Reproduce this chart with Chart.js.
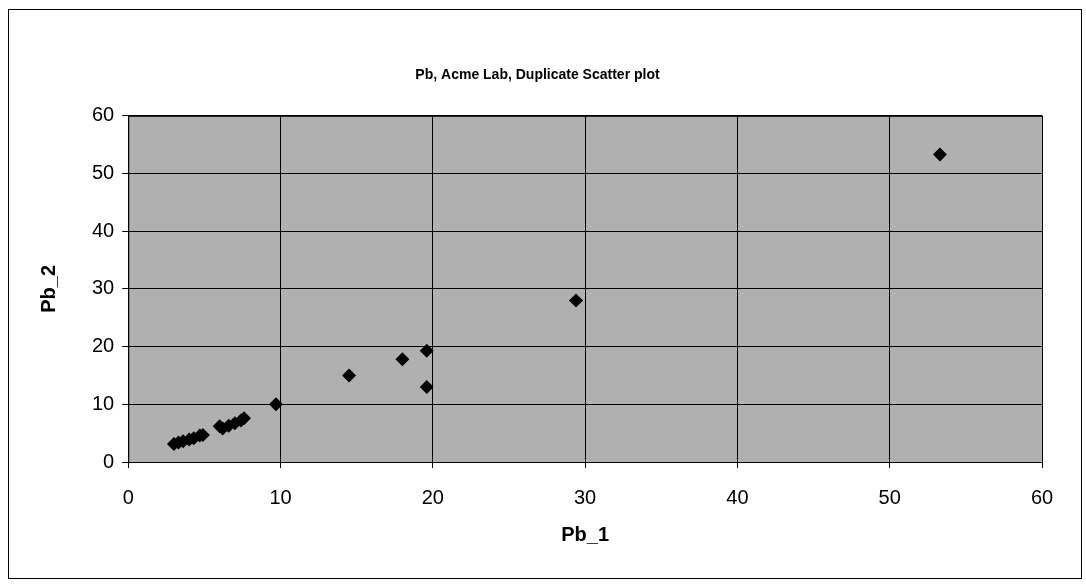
<!DOCTYPE html>
<html>
<head>
<meta charset="utf-8">
<script src="https://cdn.jsdelivr.net/npm/chart.js@4"></script>
<style>
  html, body { margin: 0; padding: 0; background: #fff; }
  #wrap { width: 1086px; height: 585px; }
</style>
</head>
<body>
<div id="wrap"><canvas id="myChart" width="1086" height="585"></canvas></div>
<script>
// duplicate pairs
const pb1 = [3.0, 3.3, 3.6, 4.0, 4.3, 4.7, 4.9, 6.0, 6.2, 6.6, 7.0, 7.4, 7.6, 9.7, 14.5, 18.0, 19.6, 19.6, 29.4, 53.3]
const pb2 = [3.1, 3.4, 3.6, 3.9, 4.1, 4.6, 4.7, 6.2, 5.8, 6.3, 6.7, 7.2, 7.6, 10.0, 15.0, 17.8, 19.3, 13.0, 28.0, 53.3]
const titleText = 'Pb, Acme Lab, Duplicate Scatter plot'
const xTitle = 'Pb_1'
const yTitle = 'Pb_2'

const puntos = pb1.map((v, i) => ({ x: v, y: pb2[i] }))

const fondo = {
    id: 'fondo',
    beforeDraw(chart) {
        const c = chart.ctx
        const a = chart.chartArea
        c.save()
        c.fillStyle = '#ffffff'
        c.fillRect(0, 0, chart.width, chart.height)
        c.strokeStyle = '#000'
        c.lineWidth = 1
        c.strokeRect(8.5, 9.5, chart.width - 13, chart.height - 16)
        c.fillStyle = '#b0b0b0'
        c.fillRect(a.left, a.top, a.right - a.left, a.bottom - a.top)
        c.restore()
    },
    afterDatasetsDraw(chart) {
        const c = chart.ctx
        const a = chart.chartArea
        c.save()
        c.strokeStyle = '#000'
        c.lineWidth = 1
        c.strokeRect(a.left + 0.5, a.top + 0.5, a.right - a.left, a.bottom - a.top)
        c.restore()
    }
}

const ctx = document.getElementById('myChart')
const myChart = new Chart(ctx, {
    type: 'scatter',
    data: {
        datasets: [{
            label: 'Pb',
            data: puntos,
            pointStyle: 'rectRot',
            pointRadius: 7,
            pointHoverRadius: 7,
            backgroundColor: '#000',
            borderColor: '#000',
            borderWidth: 0
        }]
    },
    plugins: [fondo],
    options: {
        responsive: false,
        animation: false,
        layout: { padding: { top: 20, left: 33, right: 44, bottom: 34 } },
        plugins: {
            legend: { display: false },
            tooltip: { enabled: false },
            title: {
                display: true,
                text: titleText,
                color: '#000',
                font: { family: 'Liberation Sans', size: 14, weight: 'bold' },
                padding: { top: 47, bottom: 32 }
            }
        },
        scales: {
            x: {
                type: 'linear',
                min: 0, max: 60,
                ticks: { stepSize: 10, color: '#000', font: { family: 'Liberation Sans', size: 20 }, padding: 18 },
                grid: { color: '#000', lineWidth: 1, tickLength: 6 },
                border: { color: '#000' },
                title: { display: true, text: xTitle, color: '#000', font: { family: 'Liberation Sans', size: 20, weight: 'bold' }, padding: { top: -5 } }
            },
            y: {
                min: 0, max: 60,
                ticks: { stepSize: 10, color: '#000', font: { family: 'Liberation Sans', size: 20 }, padding: 8 },
                grid: { color: '#000', lineWidth: 1, tickLength: 6 },
                border: { color: '#000' },
                title: { display: true, text: yTitle, color: '#000', font: { family: 'Liberation Sans', size: 20, weight: 'bold' }, padding: { bottom: 23 } }
            }
        }
    }
})
</script>
</body>
</html>
